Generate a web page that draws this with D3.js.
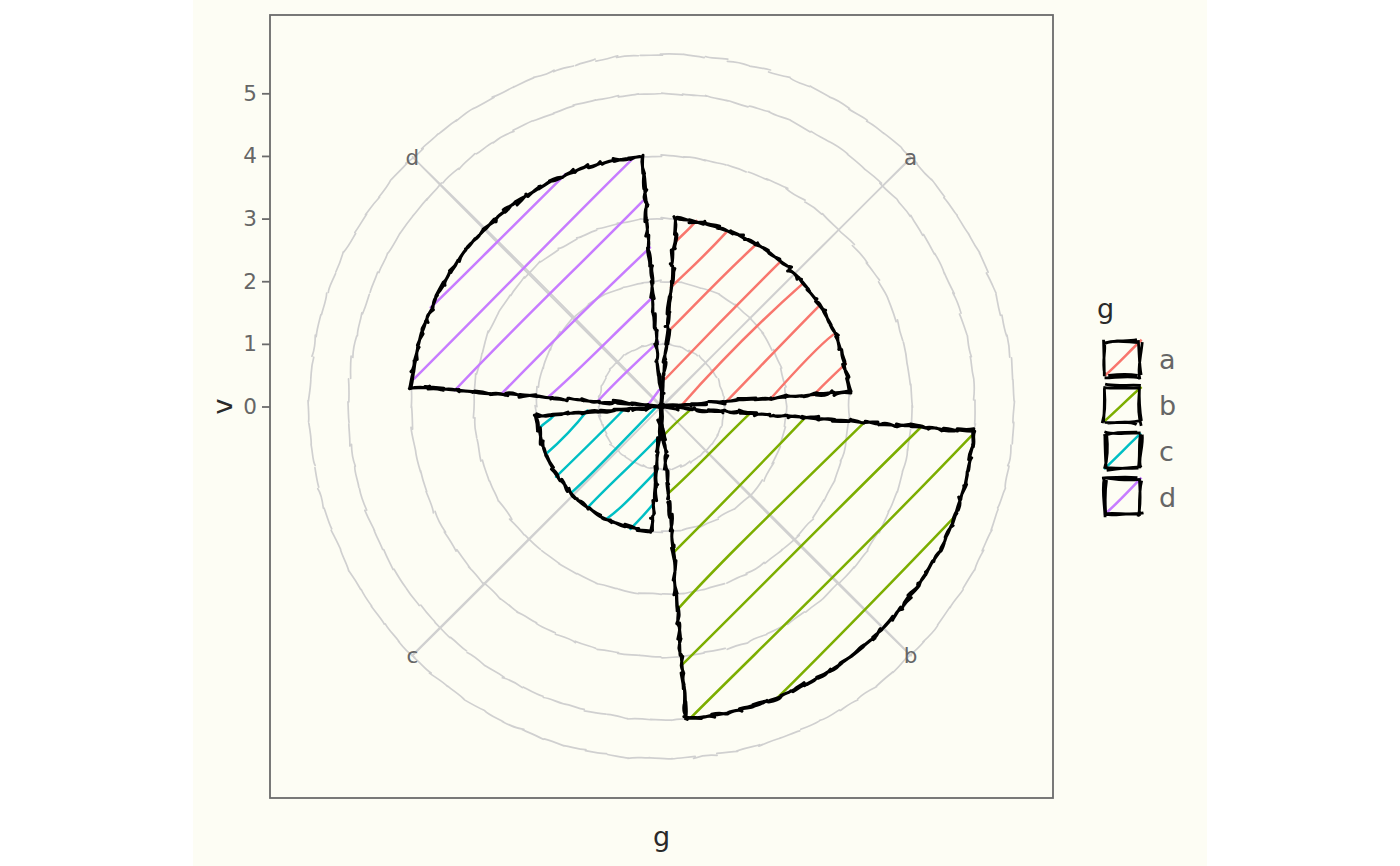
<!DOCTYPE html>
<html>
<head>
<meta charset="utf-8">
<script src="https://cdn.jsdelivr.net/npm/d3@7"></script>
<style>
  body { margin: 0; background: #fff; }
  svg { display: block; }
  text { font-family: "DejaVu Sans", sans-serif; }
</style>
</head>
<body>
<svg id="chart" width="1400" height="866"></svg>
<script>
// chart data
const categories = ['a', 'b', 'c', 'd'];
const values = [3, 5, 2, 4];
const fillColors = ['#F8766D', '#7CAE00', '#00BFC4', '#C77CFF'];
const rTicks = [0, 1, 2, 3, 4, 5];
const xTitle = 'g';
const yTitle = 'v';
const legendTitle = 'g';

// small seeded generator, only used for the hand-drawn wobble of the strokes
let seed = 20240611;
function rand() {
    seed = (seed * 16807) % 2147483647;
    return (seed - 1) / 2147483646;
}
function jit(m) { return (rand() * 2 - 1) * m; }

// one rough stroke between two points (bezier with jittered control points)
function roughSegment(x1, y1, x2, y2, roughness, half) {
    const len = Math.hypot(x2 - x1, y2 - y1);
    let o = 2 * roughness;
    if (o * 6 > len) o = len / 6;
    const j = half ? o / 2 : o;
    const dv = 0.2 + rand() * 0.2;
    const dx = x2 - x1, dy = y2 - y1;
    const mx = jit(roughness * 2 * dy / 200);
    const my = jit(roughness * 2 * -dx / 200);
    const f = v => v.toFixed(2);
    return `M${f(x1 + jit(j))},${f(y1 + jit(j))}` +
        `C${f(mx + x1 + dx * dv + jit(j))},${f(my + y1 + dy * dv + jit(j))} ` +
        `${f(mx + x1 + 2 * dx * dv + jit(j))},${f(my + y1 + 2 * dy * dv + jit(j))} ` +
        `${f(x2 + jit(j))},${f(y2 + jit(j))}`;
}

// rough outline for a list of points, drawn twice like a pen going over it again
function roughPath(points, roughness, closed, passes) {
    let d = '';
    const n = closed ? points.length : points.length - 1;
    for (let p = 0; p < passes; p++) {
        for (let i = 0; i < n; i++) {
            const a = points[i], b = points[(i + 1) % points.length];
            d += roughSegment(a[0], a[1], b[0], b[1], roughness, p > 0);
        }
    }
    return d;
}

// 45 degree hachure lines clipped to a polygon
function hachure(poly, gap) {
    const ps = poly.map(([x, y]) => (x + y) / Math.SQRT2);
    const pmin = d3.min(ps), pmax = d3.max(ps);
    const segs = [];
    for (let p = pmin + gap * 0.5; p < pmax; p += gap) {
        const hits = [];
        for (let i = 0; i < poly.length; i++) {
            const k = (i + 1) % poly.length;
            const A = poly[i], B = poly[k];
            if ((p - ps[i]) * (p - ps[k]) < 0) {
                const t = (p - ps[i]) / (ps[k] - ps[i]);
                hits.push([A[0] + t * (B[0] - A[0]), A[1] + t * (B[1] - A[1])]);
            }
        }
        hits.sort((u, v) => (u[0] - u[1]) - (v[0] - v[1]));
        for (let k = 0; k + 1 < hits.length; k += 2) segs.push([hits[k], hits[k + 1]]);
    }
    return segs;
}

// layout
const H = 866;
const bgX = 193, bgW = 1014;
const panel = { x: 270, y: 15, size: 783 };
const cx = panel.x + panel.size / 2;
const cy = panel.y + panel.size / 2;
const cream = '#fdfdf4';

const svg = d3.select('#chart');

svg.append('rect')
    .attr('x', bgX).attr('y', 0)
    .attr('width', bgW).attr('height', H)
    .attr('fill', cream);

// scales (polar: theta for categories, radius for values)
const theta = d3.scaleBand()
    .domain(categories)
    .range([0, 2 * Math.PI])
    .paddingInner(0.1)
    .paddingOuter(0.05);
const r = d3.scaleLinear().domain([0, 5]).range([0, 0.4 * panel.size]);
const rOuter = 0.45 * panel.size;
const color = d3.scaleOrdinal().domain(categories).range(fillColors);
const pt = (t, rad) => [cx + rad * Math.sin(t), cy - rad * Math.cos(t)];
const mid = c => theta(c) + theta.bandwidth() / 2;

// grid circles
const grid = svg.append('g').attr('fill', 'none')
    .attr('stroke', '#d0d0d0').attr('stroke-width', 1.7)
    .attr('stroke-linecap', 'round');

const circleRadii = rTicks.filter(v => v > 0).map(v => r(v)).concat([rOuter]);
circleRadii.forEach(rad => {
    const n = Math.max(40, Math.round(rad / 3.5));
    const pts = d3.range(n).map(i => pt(i / n * 2 * Math.PI, rad));
    grid.append('path').attr('d', roughPath(pts, 0.6, true, 1));
});

// spokes at category centres
categories.forEach(c => {
    const e = pt(mid(c), rOuter);
    grid.append('path').attr('d', roughPath([[cx, cy], e], 0.6, false, 2));
});

// theta labels
svg.append('g').selectAll('text')
    .data(categories)
    .join('text')
    .attr('x', c => pt(mid(c), rOuter)[0])
    .attr('y', c => pt(mid(c), rOuter)[1])
    .attr('text-anchor', 'middle')
    .attr('dominant-baseline', 'central')
    .attr('font-size', 21.5)
    .attr('fill', '#666')
    .text(c => c);

// wedges
function wedgePoints(c, v) {
    const t0 = theta(c), t1 = t0 + theta.bandwidth();
    const rad = r(v);
    const pts = [];
    const nr = Math.max(2, Math.ceil(rad / 16));
    for (let i = 0; i < nr; i++) pts.push(pt(t0, rad * i / nr));
    const na = Math.max(4, Math.ceil(rad * (t1 - t0) / 14));
    for (let i = 0; i <= na; i++) pts.push(pt(t0 + (t1 - t0) * i / na, rad));
    for (let i = nr - 1; i > 0; i--) pts.push(pt(t1, rad * i / nr));
    return pts;
}

const bars = svg.append('g');
categories.forEach((c, i) => {
    const poly = wedgePoints(c, values[i]);
    const gap = 8 + 0.115 * r(values[i]);
    const lines = hachure(poly, gap);
    bars.append('path')
        .attr('fill', 'none')
        .attr('stroke', color(c))
        .attr('stroke-width', 2.5)
        .attr('stroke-linecap', 'round')
        .attr('d', lines.map(s => roughSegment(s[0][0], s[0][1], s[1][0], s[1][1], 0.9, false)).join(''));
    bars.append('path')
        .attr('fill', 'none')
        .attr('stroke', '#000')
        .attr('stroke-width', 3)
        .attr('stroke-linecap', 'round')
        .attr('stroke-linejoin', 'round')
        .attr('d', roughPath(poly, 1.8, true, 2));
});

// panel border
svg.append('rect')
    .attr('x', panel.x).attr('y', panel.y)
    .attr('width', panel.size).attr('height', panel.size)
    .attr('fill', 'none')
    .attr('stroke', '#6b6b6b')
    .attr('stroke-width', 1.8);

// radial axis on the left
const yScale = d3.scaleLinear().domain([0, 5]).range([cy, cy - r(5)]);
const yAxis = svg.append('g')
    .attr('transform', `translate(${panel.x},0)`)
    .call(d3.axisLeft(yScale).tickValues(rTicks).tickFormat(d3.format('d')).tickSize(8).tickPadding(5));
yAxis.select('.domain').remove();
yAxis.selectAll('.tick line').attr('stroke', '#6b6b6b').attr('stroke-width', 1.8);
yAxis.selectAll('.tick text')
    .attr('fill', '#666')
    .attr('font-size', 21.5)
    .attr('font-family', '"DejaVu Sans", sans-serif');

// axis titles
svg.append('text')
    .attr('transform', `translate(222,${cy}) rotate(-90)`)
    .attr('text-anchor', 'middle')
    .attr('dominant-baseline', 'central')
    .attr('font-size', 27)
    .attr('fill', '#2a2a2a')
    .text(yTitle);

svg.append('text')
    .attr('x', cx).attr('y', 836)
    .attr('text-anchor', 'middle')
    .attr('dominant-baseline', 'central')
    .attr('font-size', 27)
    .attr('fill', '#2a2a2a')
    .text(xTitle);

// legend
const legend = svg.append('g');
legend.append('text')
    .attr('x', 1097).attr('y', 308)
    .attr('dominant-baseline', 'central')
    .attr('font-size', 27)
    .attr('fill', '#2a2a2a')
    .text(legendTitle);

const rowY = d3.scalePoint().domain(categories).range([359, 497]);
const keyX = 1105, keySize = 35;
categories.forEach(c => {
    const y0 = rowY(c) - keySize / 2;
    const x1 = keyX + keySize, y1 = y0 + keySize;
    legend.append('path')
        .attr('fill', 'none')
        .attr('stroke', color(c))
        .attr('stroke-width', 2.5)
        .attr('d', roughSegment(keyX, y1, x1 + 1, y0 - 1, 0.5, false));
    legend.append('path')
        .attr('fill', 'none')
        .attr('stroke', '#000')
        .attr('stroke-width', 2.8)
        .attr('stroke-linejoin', 'round')
        .attr('d', roughPath([[keyX, y0], [x1, y0], [x1, y1], [keyX, y1]], 1.8, true, 2));
    legend.append('text')
        .attr('x', 1159).attr('y', rowY(c))
        .attr('dominant-baseline', 'central')
        .attr('font-size', 27)
        .attr('fill', '#666')
        .text(c);
});
</script>
</body>
</html>
